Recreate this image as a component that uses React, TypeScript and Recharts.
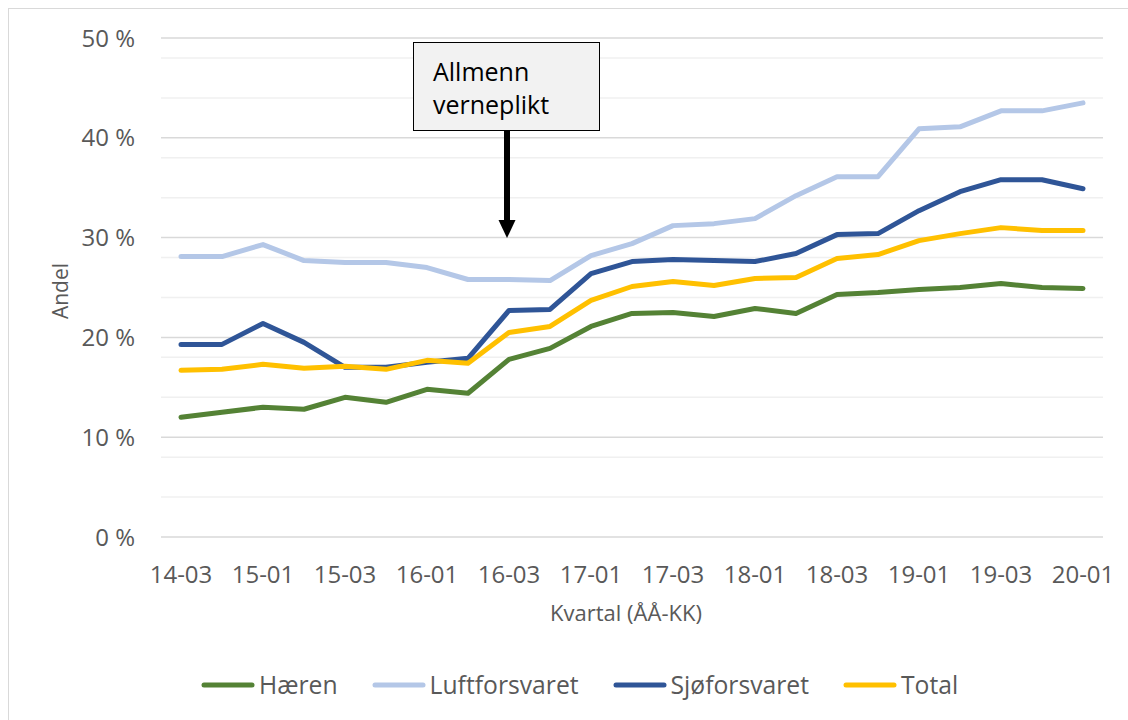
import React from 'react';
import { LineChart, Line, XAxis, YAxis, CartesianGrid } from 'recharts';

const categories = ['14-03','14-04','15-01','15-02','15-03','15-04','16-01','16-02','16-03','16-04','17-01','17-02','17-03','17-04','18-01','18-02','18-03','18-04','19-01','19-02','19-03','19-04','20-01'];
const haeren = [12.0,12.5,13.0,12.8,14.0,13.5,14.8,14.4,17.8,18.9,21.1,22.4,22.5,22.1,22.9,22.4,24.3,24.5,24.8,25.0,25.4,25.0,24.9];
const luftforsvaret = [28.1,28.1,29.3,27.7,27.5,27.5,27.0,25.8,25.8,25.7,28.2,29.4,31.2,31.4,31.9,34.2,36.1,36.1,40.9,41.1,42.7,42.7,43.5];
const sjoforsvaret = [19.3,19.3,21.4,19.5,17.0,17.0,17.5,17.9,22.7,22.8,26.4,27.6,27.8,27.7,27.6,28.4,30.3,30.4,32.7,34.6,35.8,35.8,34.9];
const total = [16.7,16.8,17.3,16.9,17.1,16.8,17.7,17.4,20.5,21.1,23.7,25.1,25.6,25.2,25.9,26.0,27.9,28.3,29.7,30.4,31.0,30.7,30.7];

const yTicks = [0, 10, 20, 30, 40, 50];
const minorGrid = [2,4,6,8,12,14,16,18,22,24,26,28,32,34,36,38,42,44,46,48];

const series = [
  { key: 'haeren', name: 'Hæren', color: '#548235', values: haeren },
  { key: 'luft', name: 'Luftforsvaret', color: '#b4c7e7', values: luftforsvaret },
  { key: 'sjo', name: 'Sjøforsvaret', color: '#2f5597', values: sjoforsvaret },
  { key: 'total', name: 'Total', color: '#ffc000', values: total },
];

const data = categories.map((c, i) => {
  const row: any = { kvartal: c };
  series.forEach((s) => { row[s.key] = s.values[i]; });
  return row;
});

const FONT = '"Open Sans", sans-serif';
const GRAY = '#595959';

export default function App() {
  return (
    <div style={{ position: 'absolute', left: 0, top: 0, width: 1128, height: 720, overflow: 'hidden', background: '#fff', fontFamily: FONT }}>
      <div style={{ position: 'absolute', left: 8, top: 8, width: 1200, height: 800, border: '1px solid #d9d9d9', boxSizing: 'border-box' }} />
      <div style={{ position: 'absolute', left: 0, top: 0 }}>
        <LineChart width={1128} height={720} data={data} margin={{ top: 38, right: 25, bottom: 0, left: 0 }}>
          <CartesianGrid vertical={false} horizontalValues={minorGrid} stroke="#f0f0f0" strokeWidth={1.5} />
          <CartesianGrid vertical={false} horizontalValues={yTicks} stroke="#d9d9d9" strokeWidth={1.5} />
          <XAxis
            dataKey="kvartal"
            interval={1}
            height={183}
            padding={{ left: 20, right: 20 }}
            axisLine={false}
            tickLine={false}
            tickSize={0}
            tickMargin={29}
            tick={{ fill: GRAY, fontSize: 24, fontFamily: FONT }}
          />
          <YAxis
            domain={[0, 50]}
            ticks={yTicks}
            width={161}
            axisLine={false}
            tickLine={false}
            tickSize={0}
            tickMargin={26}
            tickFormatter={(v: number) => `${v} %`}
            tick={{ fill: GRAY, fontSize: 24, fontFamily: FONT }}
          />
          {series.map((s) => (
            <Line
              key={s.key}
              type="linear"
              dataKey={s.key}
              name={s.name}
              stroke={s.color}
              strokeWidth={5}
              strokeLinejoin="round"
              strokeLinecap="round"
              dot={false}
              activeDot={false}
              isAnimationActive={false}
            />
          ))}
        </LineChart>
      </div>

      {/* Axis titles */}
      <div style={{ position: 'absolute', left: 0, width: 1252, top: 597, textAlign: 'center', fontSize: 22, color: GRAY, lineHeight: '30px' }}>
        Kvartal (ÅÅ-KK)
      </div>
      <div style={{ position: 'absolute', left: 60, top: 291, width: 0, height: 0 }}>
        <div style={{ position: 'absolute', left: -60, top: -15, width: 120, height: 30, lineHeight: '30px', textAlign: 'center', fontSize: 21, color: GRAY, transform: 'rotate(-90deg)' }}>
          Andel
        </div>
      </div>

      {/* Annotation */}
      <div style={{ position: 'absolute', left: 413, top: 42, width: 187, height: 89, background: '#f2f2f2', border: '1.5px solid #000', boxSizing: 'border-box' }}>
        <div style={{ position: 'absolute', left: 19, top: 12, fontSize: 25, lineHeight: '33px', color: '#000' }}>
          Allmenn<br />verneplikt
        </div>
      </div>
      <svg style={{ position: 'absolute', left: 0, top: 0 }} width={1128} height={720}>
        <line x1={507} y1={131} x2={507} y2={222} stroke="#000" strokeWidth={6} />
        <polygon points="498.5,220 515.5,220 507,238" fill="#000" />
      </svg>

      {/* Legend */}
      <div style={{ position: 'absolute', left: 201, top: 668, height: 34, display: 'flex', alignItems: 'center', whiteSpace: 'nowrap' }}>
        {series.map((s, i) => (
          <div key={s.key} style={{ display: 'flex', alignItems: 'center', marginLeft: i === 0 ? 0 : 34 }}>
            <svg width={54} height={10} style={{ marginRight: 4 }}>
              <line x1={3} y1={5} x2={51} y2={5} stroke={s.color} strokeWidth={5} strokeLinecap="round" />
            </svg>
            <span style={{ fontSize: 24.7, color: GRAY, lineHeight: '34px' }}>{s.name}</span>
          </div>
        ))}
      </div>
    </div>
  );
}
